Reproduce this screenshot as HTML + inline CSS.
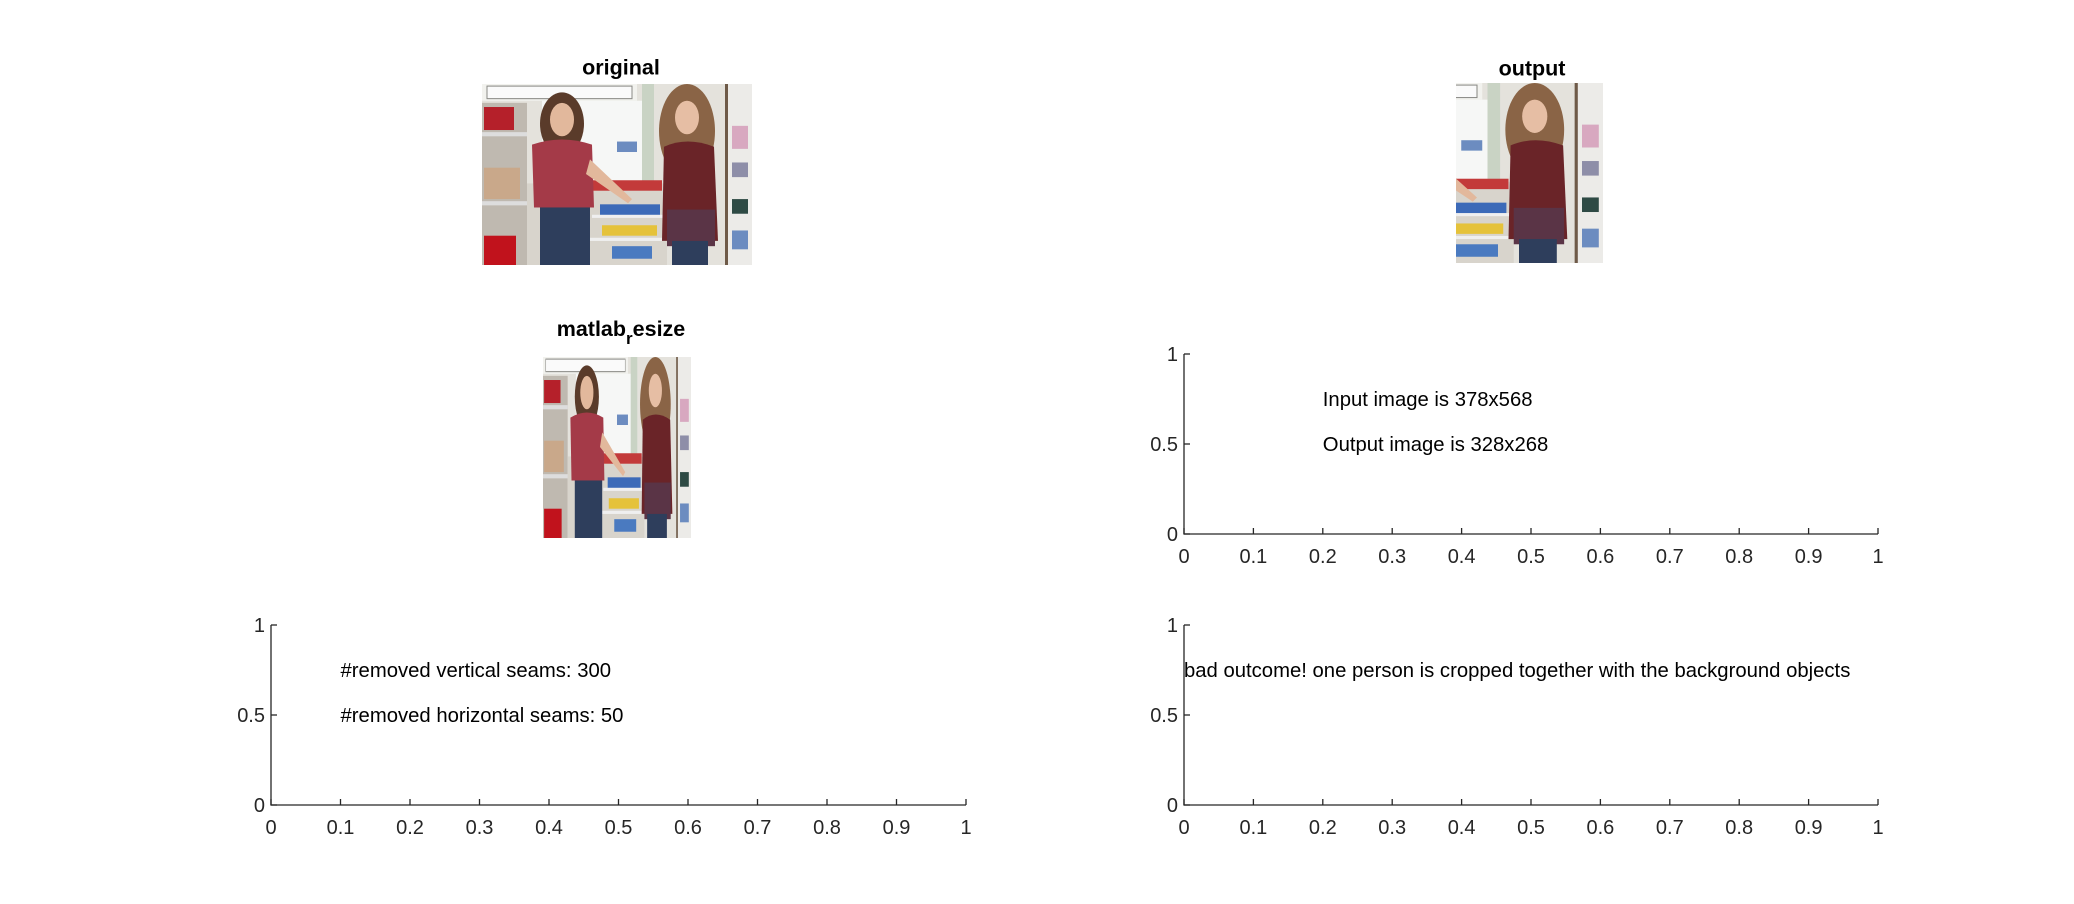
<!DOCTYPE html>
<html><head><meta charset="utf-8"><style>
html,body{margin:0;padding:0;background:#fff;}
body{width:2074px;height:904px;position:relative;overflow:hidden;font-family:"Liberation Sans",Arial,sans-serif;}
.ttl{position:absolute;font-weight:bold;font-size:21.5px;transform:translate(-50%,-50%);white-space:nowrap;color:#000;}
.img{position:absolute;}
</style></head><body>
<svg width="0" height="0" style="position:absolute">
<defs>
<g id="scene">
<rect x="0" y="0" width="270" height="173" fill="#e4e2dc"/>
<rect x="0" y="0" width="155" height="16" fill="#f2f2ee"/>
<rect x="5" y="2" width="145" height="12" fill="#fafafa" stroke="#8a8a86" stroke-width="1"/>
<rect x="60" y="16" width="110" height="85" fill="#f6f7f6"/>
<rect x="160" y="0" width="12" height="100" fill="#c9d3c4"/>
<rect x="135" y="55" width="20" height="10" fill="#6c8cc0"/>
<rect x="0" y="18" width="45" height="155" fill="#bfb9b0"/>
<rect x="2" y="22" width="30" height="22" fill="#b5202a"/>
<rect x="0" y="46" width="45" height="4" fill="#ddd"/>
<rect x="2" y="80" width="36" height="30" fill="#c9a88a"/>
<rect x="0" y="112" width="45" height="4" fill="#ddd"/>
<rect x="2" y="145" width="32" height="28" fill="#c1121c"/>
<rect x="45" y="95" width="140" height="78" fill="#d8d4cc"/>
<rect x="110" y="92" width="70" height="10" fill="#c33a3a"/>
<rect x="118" y="115" width="60" height="12" fill="#3c6ab8"/>
<rect x="120" y="135" width="55" height="10" fill="#e5c23a"/>
<rect x="130" y="155" width="40" height="12" fill="#4a7ac0"/>
<rect x="110" y="125" width="80" height="3" fill="#efefef"/>
<rect x="105" y="147" width="80" height="3" fill="#efefef"/>
<rect x="245" y="0" width="25" height="173" fill="#ecebe8"/>
<rect x="243" y="0" width="3" height="173" fill="#6e5a48"/>
<rect x="250" y="40" width="16" height="22" fill="#d8a8c0"/>
<rect x="250" y="75" width="16" height="14" fill="#8e8ea8"/>
<rect x="250" y="110" width="16" height="14" fill="#2e4a44"/>
<rect x="250" y="140" width="16" height="18" fill="#6c8cc0"/>
<ellipse cx="80" cy="38" rx="22" ry="30" fill="#5a3b2a"/>
<ellipse cx="80" cy="34" rx="12" ry="16" fill="#e2b89c"/>
<path d="M50 58 Q80 48 110 58 L112 118 L52 118 Z" fill="#a43a48"/>
<path d="M108 72 L150 110 L146 114 L104 86 Z" fill="#e2b89c"/>
<rect x="58" y="118" width="50" height="55" fill="#2e3e5c"/>
<ellipse cx="205" cy="45" rx="28" ry="45" fill="#8a6446"/>
<ellipse cx="205" cy="32" rx="12" ry="16" fill="#e6bea4"/>
<path d="M182 60 Q205 50 232 60 L236 150 L180 150 Z" fill="#6a2428"/>
<rect x="185" y="120" width="48" height="35" fill="#5a3446"/>
<rect x="190" y="150" width="36" height="23" fill="#2e3e5c"/>
</g>
</defs>
</svg>

<div class="ttl" style="left:621px;top:68px;">original</div>
<svg class="img" style="left:482px;top:84px" width="270" height="181" viewBox="0 0 270 173" preserveAspectRatio="none"><use href="#scene"/></svg>

<div class="ttl" style="left:621px;top:333px;">matlab<sub style="font-size:17px;vertical-align:-8px">r</sub>esize</div>
<svg class="img" style="left:543px;top:357px" width="148" height="181" viewBox="0 0 270 173" preserveAspectRatio="none"><use href="#scene"/></svg>

<div class="ttl" style="left:1532px;top:69px;">output</div>
<svg class="img" style="left:1456px;top:83px" width="147" height="180" viewBox="130 0 140 173" preserveAspectRatio="none"><use href="#scene"/></svg>

<svg id="charts" width="2074" height="904" style="position:absolute;left:0;top:0"></svg>

<script>
const xTicks=[0,0.1,0.2,0.3,0.4,0.5,0.6,0.7,0.8,0.9,1];
const xTickLabels=["0","0.1","0.2","0.3","0.4","0.5","0.6","0.7","0.8","0.9","1"];
const yTicks=[0,0.5,1];
const yTickLabels=["0","0.5","1"];
const infoTextX=[0.2,0.2];
const infoTextY=[0.75,0.5];
const infoTexts=["Input image is 378x568","Output image is 328x268"];
const seamTextX=[0.1,0.1];
const seamTextY=[0.75,0.5];
const seamTexts=["#removed vertical seams: 300","#removed horizontal seams: 50"];
const noteTextX=[0];
const noteTextY=[0.75];
const noteTexts=["bad outcome! one person is cropped together with the background objects"];

const NS="http://www.w3.org/2000/svg";
const root=document.getElementById('charts');
function mk(tag,attrs,parent){const e=document.createElementNS(NS,tag);for(const k in attrs)e.setAttribute(k,attrs[k]);parent.appendChild(e);return e;}
function axes(name,left,top,w,h,tx,ty,ts){
  const g=mk('g',{},root);
  
  
  const sx=v=>left+v*w, sy=v=>top+h-v*h;
  const ax=mk('path',{d:`M${left} ${top} V${top+h} H${left+w}`,stroke:'#262626','stroke-width':1.3,fill:'none'},g);
  
  
  xTicks.forEach((v,i)=>{
    const t=mk('line',{x1:sx(v),x2:sx(v),y1:top+h,y2:top+h-6,stroke:'#262626','stroke-width':1.3},g);
    
    
    const l=mk('text',{x:sx(v),y:top+h+29,'text-anchor':'middle','font-size':20,fill:'#262626'},g);
    
    
    l.textContent=xTickLabels[i];
  });
  yTicks.forEach((v,i)=>{
    const t=mk('line',{x1:left,x2:left+6,y1:sy(v),y2:sy(v),stroke:'#262626','stroke-width':1.3},g);
    
    
    const l=mk('text',{x:left-6,y:sy(v)+7,'text-anchor':'end','font-size':20,fill:'#262626'},g);
    
    
    l.textContent=yTickLabels[i];
  });
  ts.forEach((s,i)=>{
    const l=mk('text',{x:sx(tx[i]),y:sy(ty[i])+7,'font-size':20.3,fill:'#000'},g);
    
    
    l.textContent=s;
  });
}
axes('size-info-axes',1184,354,694,180,infoTextX,infoTextY,infoTexts);
axes('seam-info-axes',271,625,695,180,seamTextX,seamTextY,seamTexts);
axes('outcome-note-axes',1184,625,694,180,noteTextX,noteTextY,noteTexts);
</script>
</body></html>
